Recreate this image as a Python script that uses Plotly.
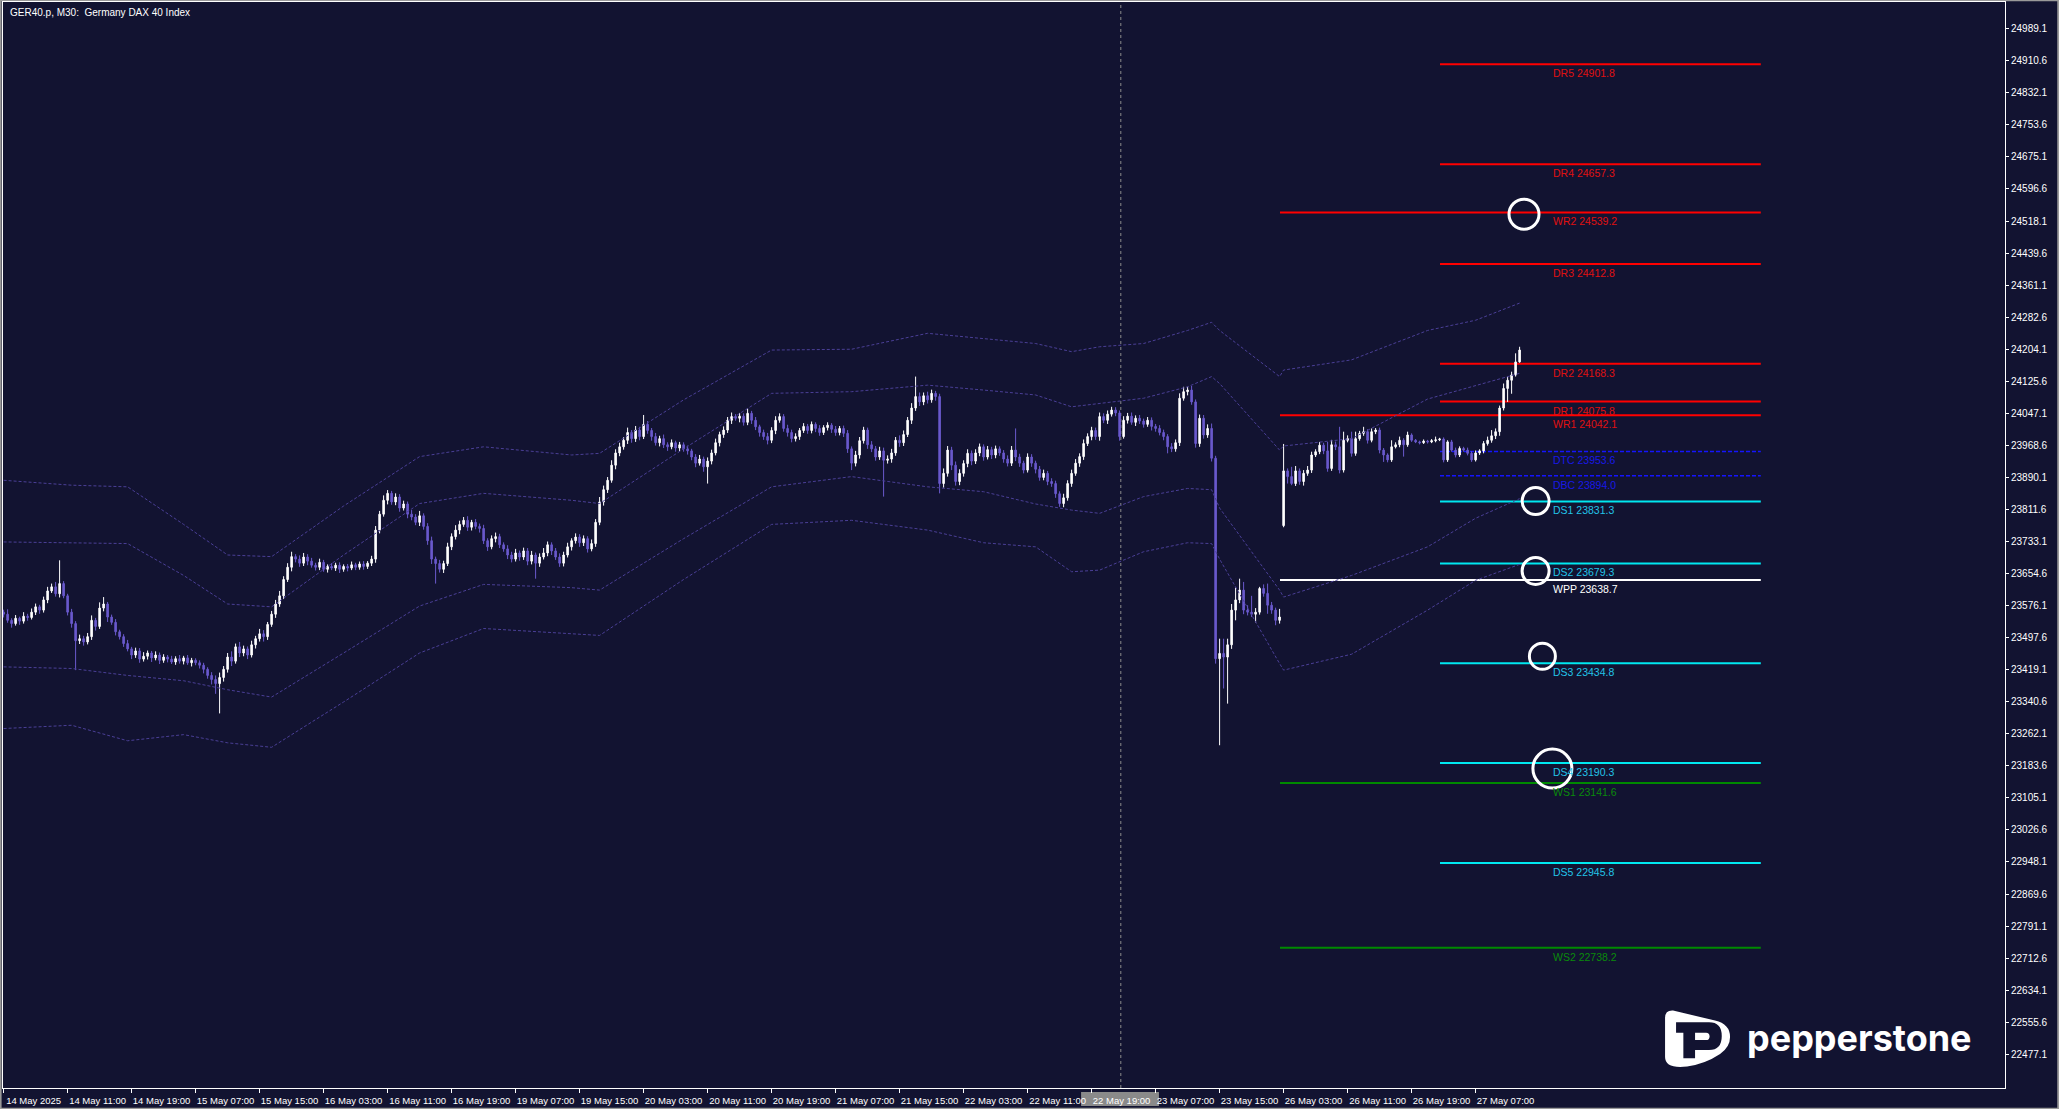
import plotly.graph_objects as go

# GER40.p M30 bars. bar 0 = 14 May 03:00 (server time), 40 bars per session day
bar_open = [
    23560, 23555, 23540, 23532, 23545, 23538, 23550, 23547, 23560, 23573,
    23565, 23590, 23612, 23622, 23605, 23630, 23600, 23560, 23532, 23490,
    23495, 23487, 23500, 23540, 23525, 23570, 23580, 23548, 23535, 23512,
    23500, 23483, 23470, 23455, 23465, 23445, 23452, 23460, 23448, 23455,
    23442, 23450, 23445, 23438, 23446, 23440, 23448, 23436, 23442, 23436,
    23430, 23420, 23405, 23395, 23385, 23400, 23420, 23450, 23440, 23475,
    23460, 23470, 23455, 23480, 23495, 23507, 23500, 23530, 23555, 23580,
    23600, 23640, 23670, 23696, 23690, 23680, 23695, 23685, 23675, 23670,
    23682, 23665, 23672, 23668, 23675, 23665, 23672, 23668, 23676, 23670,
    23678, 23672, 23680, 23690, 23761, 23800, 23834, 23851, 23830, 23842,
    23815, 23825, 23800, 23793, 23780, 23796, 23770, 23735, 23690, 23679,
    23665, 23679, 23720, 23745, 23761, 23775, 23785, 23768, 23780, 23770,
    23765, 23735, 23720, 23740, 23745, 23725, 23715, 23700, 23690, 23705,
    23695, 23710, 23685, 23700, 23680, 23695, 23705, 23725, 23710, 23695,
    23680, 23700, 23720, 23735, 23744, 23730, 23740, 23715, 23728, 23780,
    23830, 23860, 23883, 23920, 23950, 23965, 23981, 24000, 23985, 24006,
    23990, 24020, 24005, 23990, 23975, 23985, 23970, 23965, 23975, 23962,
    23970, 23960, 23955, 23940, 23925, 23935, 23916, 23930, 23950, 23975,
    23995, 24006, 24030, 24039, 24035, 24040, 24025, 24047, 24030, 24014,
    24000, 23990, 23981, 24005, 24030, 24039, 24010, 24000, 23985, 23990,
    24005, 24015, 24005, 24020, 24010, 24000, 24012, 24018, 24008, 24000,
    24010, 23998, 23960, 23925, 23945, 23980, 24006, 23970, 23960, 23940,
    23955, 23932, 23935, 23950, 23981, 23975, 23995, 24030, 24060, 24088,
    24075, 24090, 24080, 24096, 24088, 23875, 23900, 23957, 23920, 23880,
    23900, 23924, 23949, 23930, 23950, 23965, 23940, 23958, 23945, 23960,
    23950, 23935, 23925, 23957, 23940, 23925, 23908, 23940, 23925, 23910,
    23890, 23900, 23880, 23875, 23850, 23826, 23840, 23875, 23900, 23925,
    23941, 23973, 23990, 24005, 23990, 24039, 24030, 24045, 24055, 24048,
    23990, 24030, 24040, 24025, 24035, 24028, 24020, 24030, 24015, 24010,
    24000, 23990, 23965, 23960, 23975, 24084, 24100, 24104, 24075, 23973,
    24035, 23994, 24010, 23937, 23446, 23459, 23450, 23480, 23565, 23590,
    23614, 23565, 23560, 23555, 23560, 23618, 23606, 23577, 23565, 23540,
    23772, 23906, 23892, 23875, 23906, 23880, 23900, 23908, 23945, 23953,
    23969, 23955, 23912, 23970, 23965, 23908, 23981, 23985, 23949, 23985,
    23998, 24002, 23981, 24002, 24006, 23957, 23945, 23933, 23965, 23970,
    23981, 23970, 23994, 23981, 23977, 23975, 23979, 23977, 23980, 23982,
    23984, 23933, 23977, 23957, 23945, 23961, 23957, 23949, 23933, 23950,
    23955, 23973, 23981, 23992, 24002, 24060, 24108, 24128, 24141, 24173,
]
bar_close = [
    23555, 23540, 23532, 23545, 23538, 23550, 23547, 23560, 23573, 23565,
    23590, 23612, 23622, 23605, 23630, 23600, 23560, 23532, 23490, 23495,
    23487, 23500, 23540, 23525, 23570, 23580, 23548, 23535, 23512, 23500,
    23483, 23470, 23455, 23465, 23445, 23452, 23460, 23448, 23455, 23442,
    23450, 23445, 23438, 23446, 23440, 23448, 23436, 23442, 23436, 23430,
    23420, 23405, 23395, 23385, 23400, 23420, 23450, 23440, 23475, 23460,
    23470, 23455, 23480, 23495, 23507, 23500, 23530, 23555, 23580, 23600,
    23640, 23670, 23696, 23690, 23680, 23695, 23685, 23675, 23670, 23682,
    23665, 23672, 23668, 23675, 23665, 23672, 23668, 23676, 23670, 23678,
    23672, 23680, 23690, 23761, 23800, 23834, 23851, 23830, 23842, 23815,
    23825, 23800, 23793, 23780, 23796, 23770, 23735, 23690, 23679, 23665,
    23679, 23720, 23745, 23761, 23775, 23785, 23768, 23780, 23770, 23765,
    23735, 23720, 23740, 23745, 23725, 23715, 23700, 23690, 23705, 23695,
    23710, 23685, 23700, 23680, 23695, 23705, 23725, 23710, 23695, 23680,
    23700, 23720, 23735, 23744, 23730, 23740, 23715, 23728, 23780, 23830,
    23860, 23883, 23920, 23950, 23965, 23981, 24000, 23985, 24006, 23990,
    24020, 24005, 23990, 23975, 23985, 23970, 23965, 23975, 23962, 23970,
    23960, 23955, 23940, 23925, 23935, 23916, 23930, 23950, 23975, 23995,
    24006, 24030, 24039, 24035, 24040, 24025, 24047, 24030, 24014, 24000,
    23990, 23981, 24005, 24030, 24039, 24010, 24000, 23985, 23990, 24005,
    24015, 24005, 24020, 24010, 24000, 24012, 24018, 24008, 24000, 24010,
    23998, 23960, 23925, 23945, 23980, 24006, 23970, 23960, 23940, 23955,
    23932, 23935, 23950, 23981, 23975, 23995, 24030, 24060, 24088, 24075,
    24090, 24080, 24096, 24088, 23875, 23900, 23957, 23920, 23880, 23900,
    23924, 23949, 23930, 23950, 23965, 23940, 23958, 23945, 23960, 23950,
    23935, 23925, 23957, 23940, 23925, 23908, 23940, 23925, 23910, 23890,
    23900, 23880, 23875, 23850, 23826, 23840, 23875, 23900, 23925, 23941,
    23973, 23990, 24005, 23990, 24039, 24030, 24045, 24055, 24048, 23990,
    24030, 24040, 24025, 24035, 24028, 24020, 24030, 24015, 24010, 24000,
    23990, 23965, 23960, 23975, 24084, 24100, 24104, 24075, 23973, 24035,
    23994, 24010, 23937, 23446, 23459, 23450, 23480, 23565, 23590, 23614,
    23565, 23560, 23555, 23560, 23618, 23606, 23577, 23565, 23540, 23548,
    23906, 23892, 23875, 23906, 23880, 23900, 23908, 23945, 23953, 23969,
    23955, 23912, 23970, 23965, 23908, 23981, 23985, 23949, 23985, 23998,
    24002, 23981, 24002, 24006, 23957, 23945, 23933, 23965, 23970, 23981,
    23970, 23994, 23981, 23977, 23975, 23979, 23977, 23980, 23982, 23984,
    23933, 23977, 23957, 23945, 23961, 23957, 23949, 23933, 23950, 23955,
    23973, 23981, 23992, 24002, 24060, 24108, 24128, 24141, 24173, 24202,
]
# wick lengths (points) above / below the body
wick_up = [
    6, 12, 5, 8, 4, 10, 6, 9, 8, 5,
    8, 10, 8, 12, 57, 6, 5, 8, 6, 10,
    7, 9, 12, 6, 14, 17, 5, 6, 8, 5,
    6, 9, 5, 8, 7, 10, 6, 5, 9, 6,
    7, 5, 8, 6, 9, 5, 7, 6, 5, 6,
    6, 5, 8, 10, 12, 8, 10, 14, 8, 12,
    8, 6, 10, 7, 12, 9, 6, 8, 10, 12,
    8, 10, 12, 6, 9, 10, 7, 8, 6, 9,
    6, 5, 8, 6, 7, 5, 6, 8, 5, 6,
    7, 5, 8, 10, 8, 12, 8, 6, 9, 7,
    8, 6, 10, 7, 12, 6, 8, 10, 6, 9,
    7, 10, 8, 12, 9, 8, 10, 6, 8, 7,
    9, 6, 8, 10, 7, 6, 9, 8, 10, 6,
    8, 7, 10, 6, 9, 12, 8, 6, 7, 9,
    8, 10, 6, 9, 7, 8, 6, 10, 8, 12,
    10, 8, 12, 9, 10, 8, 12, 6, 10, 8,
    23, 8, 6, 9, 7, 10, 6, 8, 5, 7,
    6, 8, 5, 7, 10, 6, 9, 8, 10, 7,
    9, 8, 10, 6, 8, 7, 12, 6, 8, 5,
    7, 9, 8, 10, 8, 6, 9, 7, 8, 6,
    8, 6, 7, 5, 8, 6, 7, 5, 8, 6,
    7, 8, 6, 10, 9, 8, 6, 9, 7, 10,
    8, 9, 10, 8, 12, 10, 8, 12, 49, 10,
    8, 10, 9, 6, 7, 12, 10, 8, 9, 10,
    8, 10, 7, 9, 8, 6, 9, 7, 8, 6,
    7, 9, 10, 53, 8, 6, 9, 7, 6, 8,
    9, 6, 8, 7, 6, 10, 8, 9, 10, 8,
    10, 8, 9, 7, 10, 8, 9, 8, 7, 6,
    10, 8, 9, 7, 8, 6, 8, 7, 6, 8,
    7, 6, 9, 8, 12, 12, 8, 10, 6, 9,
    8, 10, 12, 6, 36, 36, 15, 15, 30, 28,
    20, 12, 40, 10, 4, 10, 24, 8, 6, 20,
    66, 6, 24, 12, 6, 8, 10, 8, 6, 8,
    6, 22, 12, 8, 49, 21, 8, 17, 17, 6,
    12, 6, 8, 5, 6, 5, 4, 16, 6, 9,
    5, 8, 4, 3, 3, 4, 3, 4, 8, 3,
    4, 4, 5, 6, 5, 4, 6, 5, 6, 4,
    6, 9, 14, 8, 6, 12, 9, 8, 21, 8,
]
wick_dn = [
    8, 6, 10, 5, 9, 6, 8, 5, 7, 9,
    6, 8, 5, 7, 9, 6, 8, 10, 72, 8,
    9, 6, 8, 10, 6, 8, 12, 6, 9, 7,
    8, 6, 10, 7, 9, 6, 8, 10, 6, 9,
    6, 8, 5, 7, 6, 8, 5, 9, 6, 8,
    10, 8, 12, 25, 73, 10, 8, 12, 6, 10,
    8, 10, 6, 9, 7, 12, 8, 6, 9, 7,
    8, 6, 10, 8, 9, 7, 10, 6, 8, 7,
    6, 8, 5, 7, 9, 6, 8, 5, 7, 6,
    8, 6, 7, 9, 8, 6, 10, 7, 8, 9,
    6, 10, 8, 7, 9, 8, 10, 12, 49, 8,
    9, 6, 8, 7, 10, 6, 9, 8, 7, 10,
    8, 10, 6, 9, 8, 7, 10, 8, 6, 9,
    7, 10, 8, 38, 9, 6, 8, 10, 7, 9,
    8, 6, 9, 7, 10, 8, 9, 6, 8, 7,
    9, 8, 6, 10, 8, 7, 9, 10, 8, 9,
    6, 8, 10, 7, 9, 8, 10, 6, 9, 8,
    7, 9, 8, 10, 6, 12, 41, 8, 6, 9,
    8, 7, 9, 6, 10, 8, 7, 9, 8, 10,
    8, 10, 7, 9, 6, 8, 10, 9, 7, 8,
    6, 8, 7, 9, 8, 6, 7, 9, 8, 7,
    9, 10, 17, 8, 9, 7, 10, 8, 9, 7,
    89, 8, 9, 7, 10, 8, 6, 9, 7, 10,
    8, 9, 7, 10, 24, 10, 8, 12, 10, 9,
    8, 9, 10, 7, 8, 9, 6, 10, 8, 7,
    9, 8, 7, 10, 9, 8, 6, 9, 10, 8,
    7, 9, 8, 10, 8, 9, 7, 8, 6, 9,
    8, 6, 9, 8, 10, 7, 9, 6, 8, 10,
    5, 8, 6, 9, 7, 8, 6, 10, 8, 7,
    9, 16, 8, 7, 8, 6, 9, 7, 10, 8,
    9, 7, 8, 12, 212, 77, 114, 10, 25, 8,
    10, 8, 7, 20, 6, 8, 21, 9, 12, 8,
    4, 17, 4, 6, 8, 10, 6, 7, 5, 6,
    8, 8, 6, 8, 8, 6, 5, 8, 6, 5,
    6, 8, 5, 6, 8, 17, 6, 5, 4, 6,
    29, 5, 4, 3, 4, 3, 4, 3, 4, 3,
    6, 5, 4, 6, 5, 4, 5, 5, 4, 5,
    6, 5, 6, 8, 10, 6, 33, 33, 4, 2,
]

# band lines (higher timeframe bands), sampled at these bars
band_bars = [0, 17, 31, 45, 56, 67, 85, 104, 120, 142, 149, 170, 192, 212, 231,
             245, 258, 267, 274, 285, 296, 302, 304, 319, 320, 337, 356, 368, 379]
band_up2 = [23883, 23871, 23867, 23775, 23700, 23696, 23820, 23941, 23965, 23945,
            23949, 24080, 24202, 24204, 24243, 24230, 24218, 24198, 24210, 24218,
            24250, 24270, 24250, 24137, 24153, 24178, 24250, 24275, 24317]
band_up1 = [23732, 23730, 23728, 23650, 23580, 23573, 23700, 23826, 23851, 23834,
            23826, 23960, 24096, 24100, 24116, 24104, 24092, 24063, 24071, 24084,
            24112, 24137, 24120, 23957, 23967, 23985, 24082, 24115, 24145]
band_dn1 = [23426, 23422, 23405, 23392, 23370, 23352, 23460, 23575, 23628, 23620,
            23614, 23740, 23867, 23892, 23867, 23855, 23825, 23810, 23802, 23843,
            23863, 23860, 23815, 23614, 23597, 23650, 23720, 23790, 23838]
band_dn2 = [23275, 23283, 23245, 23260, 23240, 23229, 23340, 23460, 23520, 23508,
            23503, 23640, 23775, 23785, 23761, 23730, 23720, 23659, 23663, 23708,
            23730, 23728, 23690, 23434, 23418, 23457, 23565, 23638, 23677]

# pivot levels
weekly_names = ["WR2", "WR1", "WPP", "WS1", "WS2"]
weekly_values = [24539.2, 24042.1, 23638.7, 23141.6, 22738.2]
daily_names = ["DR5", "DR4", "DR3", "DR2", "DR1", "DTC", "DBC",
               "DS1", "DS2", "DS3", "DS4", "DS5"]
daily_values = [24901.8, 24657.3, 24412.8, 24168.3, 24075.8, 23953.6, 23894.0,
                23831.3, 23679.3, 23434.8, 23190.3, 22945.8]

time_tick_bars = [0, 16, 32, 48, 64, 80, 96, 112, 128, 144, 160, 176,
                  192, 208, 224, 240, 256, 272, 288, 304, 320, 336, 352, 368]
time_tick_text = ["14 May 2025", "14 May 11:00", "14 May 19:00", "15 May 07:00",
                  "15 May 15:00", "16 May 03:00", "16 May 11:00", "16 May 19:00",
                  "19 May 07:00", "19 May 15:00", "20 May 03:00", "20 May 11:00",
                  "20 May 19:00", "21 May 07:00", "21 May 15:00", "22 May 03:00",
                  "22 May 11:00", "22 May 19:00", "23 May 07:00", "23 May 15:00",
                  "26 May 03:00", "26 May 11:00", "26 May 19:00", "27 May 07:00"]
price_ticks = [22477.1, 22555.6, 22634.1, 22712.6, 22791.1, 22869.6, 22948.1,
               23026.6, 23105.1, 23183.6, 23262.1, 23340.6, 23419.1, 23497.6,
               23576.1, 23654.6, 23733.1, 23811.6, 23890.1, 23968.6, 24047.1,
               24125.6, 24204.1, 24282.6, 24361.1, 24439.6, 24518.1, 24596.6,
               24675.1, 24753.6, 24832.1, 24910.6, 24989.1]

BG = "#121331"
UP = "#FFFFFF"
DOWN = "#6A5ACD"
BAND = "#4A3F96"
FONT = "Liberation Sans"

bars = list(range(len(bar_close)))
bar_high = [max(o, c) + w for o, c, w in zip(bar_open, bar_close, wick_up)]
bar_low = [min(o, c) - w for o, c, w in zip(bar_open, bar_close, wick_dn)]


def level_style(name):
    if name.startswith(("DR", "WR")):
        return "#FF0000", "#E01010", None
    if name.startswith("DS"):
        return "#00E8F0", "#22C4E8", None
    if name.startswith("WS"):
        return "#008A00", "#0A8A0A", None
    if name in ("DTC", "DBC"):
        return "#1414FF", "#1818E6", "4px,2px"
    return "#FFFFFF", "#FFFFFF", None


fig = go.Figure()

for band in (band_up2, band_up1, band_dn1, band_dn2):
    fig.add_trace(go.Scatter(
        x=band_bars, y=band, mode="lines",
        line=dict(color=BAND, width=1, dash="3px,2px"),
        hoverinfo="skip", showlegend=False,
    ))

fig.add_trace(go.Candlestick(
    x=bars, open=bar_open, high=bar_high, low=bar_low, close=bar_close,
    increasing=dict(line=dict(color=UP, width=1), fillcolor=UP),
    decreasing=dict(line=dict(color=DOWN, width=1), fillcolor=DOWN),
    whiskerwidth=0, hoverinfo="skip", showlegend=False,
))

shapes = []
annotations = []

# crosshair line and its time box
shapes.append(dict(type="line", xref="x", yref="paper", x0=279.3, x1=279.3, y0=0, y1=1,
                   line=dict(color="#8C8C8C", width=1, dash="3px,3px"), layer="below"))
shapes.append(dict(type="rect", xref="paper", yref="paper", x0=0.5385, x1=0.5774,
                   y0=-0.0166, y1=-0.0037, fillcolor="#8A8A8A", line_width=0, layer="below"))

line_end = 439.3
label_x = 386.9
for names, values, start in ((weekly_names, weekly_values, 319.1),
                             (daily_names, daily_values, 359.1)):
    for name, value in zip(names, values):
        line_col, text_col, dash = level_style(name)
        shapes.append(dict(type="line", xref="x", yref="y", x0=start, x1=line_end,
                           y0=value, y1=value, layer="below",
                           line=dict(color=line_col, width=2 if dash is None else 1.5,
                                     dash=dash or "solid")))
        annotations.append(dict(x=label_x, y=value, xref="x", yref="y",
                                text=f"{name} {value:.1f}", showarrow=False,
                                xanchor="left", yanchor="top", yshift=-1,
                                font=dict(family=FONT, size=10.5, color=text_col)))

# hand-drawn circles
for cx, cy, r in ((380.1, 24534.7, 15), (383.0, 23832, 13.5), (383.0, 23661, 13.5),
                  (384.7, 23452, 13), (387.2, 23176.8, 19.5)):
    shapes.append(dict(type="circle", xref="x", yref="y", xsizemode="pixel",
                       ysizemode="pixel", xanchor=cx, yanchor=cy,
                       x0=-r, x1=r, y0=-r, y1=r, line=dict(color="white", width=3)))

# pepperstone logo
logo = dict(type="path", xref="paper", yref="paper", xsizemode="pixel",
            ysizemode="pixel", xanchor=0.8302, yanchor=0.0193, line_width=0)
shapes.append(dict(logo, fillcolor="white",
                   path="M0,10 L0,49 Q0,57 8,56.5 L50,46.5 Q65,43 65,30 Q65,20 55,13 "
                        "Q40,3 22,0.5 Q0,-2 0,10 Z"))
shapes.append(dict(logo, fillcolor=BG,
                   path="M11,44.7 L44,44.7 Q56.7,44.7 56.7,31 Q56.7,17 44,17 L30,17 "
                        "L30,8.7 L18.3,8.7 L18.3,34.3 L11,34.3 Z"))
shapes.append(dict(logo, fillcolor="white",
                   path="M30,34.3 L41,34.3 Q44.5,34.3 44.5,30.6 Q44.5,27 41,27 L30,27 Z"))
annotations.append(dict(x=0.8701, y=0.0460, xref="paper", yref="paper",
                        text="pepperstone", showarrow=False, xanchor="left",
                        yanchor="middle",
                        font=dict(family="Inter", size=36, color="white", weight=700)))

# window title
annotations.append(dict(x=0.0025, y=0.9905, xref="paper", yref="paper",
                        text="GER40.p, M30:\u00a0 Germany DAX 40 Index", showarrow=False,
                        xanchor="left", yanchor="middle",
                        font=dict(family=FONT, size=10, color="white")))

# window border
shapes.append(dict(type="rect", xref="paper", yref="paper", x0=-0.0012, x1=1.0266,
                   y0=-0.0190, y1=1.0016, line=dict(color="#9A9A9A", width=2),
                   layer="below"))

fig.update_layout(
    width=2059, height=1109, autosize=False,
    paper_bgcolor=BG, plot_bgcolor=BG,
    margin=dict(l=3, r=54, t=2, b=21),
    font=dict(family=FONT, size=10, color="white"),
    showlegend=False,
    boxgap=0.45,
    shapes=shapes,
    annotations=annotations,
    xaxis=dict(
        range=[-0.15, 500.35], rangeslider=dict(visible=False),
        tickvals=time_tick_bars, ticktext=time_tick_text, tickangle=0,
        ticks="outside", ticklen=4, tickcolor="white", ticklabelshift=30,
        tickfont=dict(family=FONT, size=9.5, color="white"),
        showgrid=False, zeroline=False,
        showline=True, linecolor="white", linewidth=1, mirror=True,
    ),
    yaxis=dict(
        range=[22394.5, 25054.5], side="right",
        tickvals=price_ticks, tickformat=".1f",
        ticks="outside", ticklen=3, tickcolor="white",
        tickfont=dict(family=FONT, size=10, color="white"),
        showgrid=False, zeroline=False,
        showline=True, linecolor="white", linewidth=1, mirror=True,
    ),
)

fig.write_html("out.html", config={"displayModeBar": False},
               post_script="document.body.style.margin='0';"
                           "document.body.style.overflow='hidden';")
